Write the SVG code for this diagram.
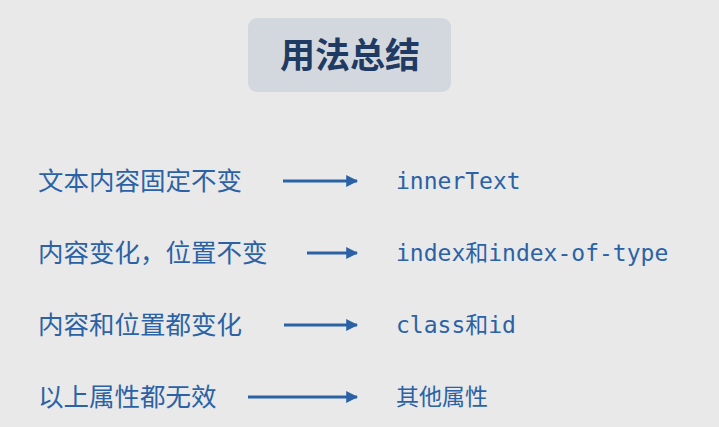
<svg xmlns="http://www.w3.org/2000/svg" width="719" height="427" viewBox="0 0 719 427">
<style>
.bg{fill:#e9e9e9}
.title-box{fill:#d3d8de}
.title{font-family:"Noto Sans CJK SC","Noto Sans",sans-serif;font-size:35px;font-weight:bold;fill:#1f3b63;text-anchor:middle}
.lbl{font-family:"Noto Sans CJK SC","Noto Sans",sans-serif;font-size:25.5px;font-weight:normal;fill:#2b62a6}
.code{font-family:"DejaVu Sans Mono","Noto Sans CJK SC",monospace;font-size:23px;fill:#2b62a6}
.conn{stroke:#2b62a6;stroke-width:3;fill:none;marker-end:url(#ah)}
</style>
<defs>
<marker id="ah" viewBox="0 0 10 10" refX="9" refY="5" markerWidth="4" markerHeight="4" markerUnits="strokeWidth" orient="auto">
<path d="M0,0 L10,5 L0,10 Z" fill="#2b62a6"/>
</marker>
</defs>
<rect class="bg" x="0" y="0" width="719" height="427"/>
<g id="title">
<rect class="title-box" x="248" y="18" width="203" height="74" rx="9"/>
<text class="title" x="350" y="68">用法总结</text>
</g>
<g id="row1">
<text class="lbl" x="38" y="190">文本内容固定不变</text>
<text class="code" x="396" y="189">innerText</text>
</g>
<g id="row2">
<text class="lbl" x="38" y="262">内容变化，位置不变</text>
<text class="code" x="396" y="261">index和index-of-type</text>
</g>
<g id="row3">
<text class="lbl" x="38" y="334">内容和位置都变化</text>
<text class="code" x="396" y="333">class和id</text>
</g>
<g id="row4">
<text class="lbl" x="38" y="406">以上属性都无效</text>
<text class="code" x="396" y="405">其他属性</text>
</g>
<g id="connectors">
<line class="conn" x1="283" y1="181" x2="357" y2="181"/>
<line class="conn" x1="307" y1="253" x2="357" y2="253"/>
<line class="conn" x1="284" y1="325" x2="357" y2="325"/>
<line class="conn" x1="248" y1="397" x2="357" y2="397"/>
</g>
</svg>
